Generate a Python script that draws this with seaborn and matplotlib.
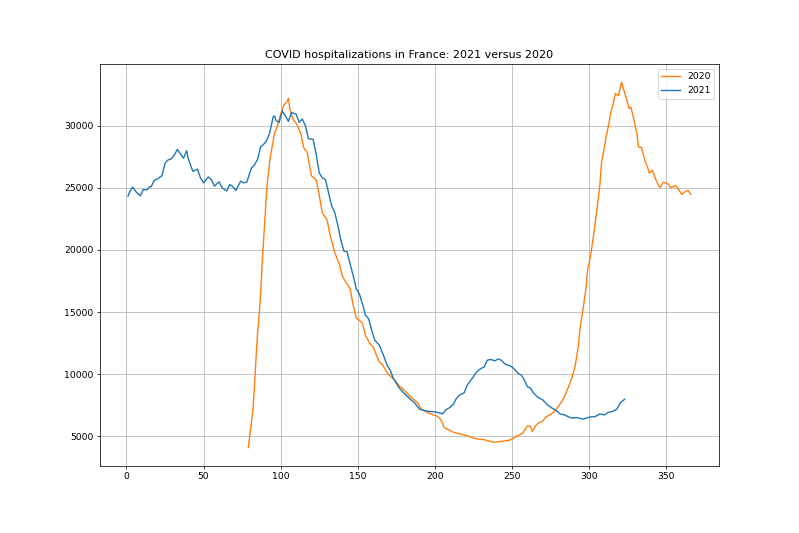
import matplotlib
matplotlib.use("Agg")
import matplotlib.pyplot as plt
import seaborn as sns
import pandas as pd

days_2020 = [79, 80, 81, 82, 83, 84, 85, 86, 87, 88, 91, 93, 96, 98, 100, 102, 104, 105,
             106, 108, 110, 113, 115, 117, 119, 120, 123, 125, 127, 130, 132, 135, 138,
             140, 142, 145, 147, 149, 151, 153, 155, 158, 160, 162, 164, 166, 168, 170,
             174, 177, 180, 183, 187, 189, 191, 194, 197, 201, 203, 205, 206, 209, 212,
             216, 219, 222, 225, 228, 232, 235, 238, 241, 245, 248, 250, 252, 255, 257,
             259, 260, 262, 263, 265, 267, 270, 272, 275, 277, 280, 283, 285, 287, 289,
             291, 293, 294, 296, 298, 299, 301, 303, 305, 307, 308, 310, 311, 313, 314,
             315, 317, 319, 321, 322, 324, 326, 327, 329, 331, 332, 334, 336, 338, 339,
             341, 343, 345, 346, 348, 351, 353, 356, 358, 360, 362, 364, 366]
hosp_2020 = [4100, 5100, 6070, 7140, 9000, 11300, 13300, 14700, 16500, 19000, 25000, 27300,
             29400, 30050, 30900, 31650, 31900, 32200, 31300, 30500, 30200, 29400, 28200,
             27900, 26600, 25950, 25650, 24400, 22950, 22450, 21200, 19800, 18850, 17900,
             17450, 16900, 15550, 14500, 14350, 14100, 13100, 12450, 12200, 11550, 11000,
             10750, 10350, 9950, 9530, 9050, 8730, 8330, 7880, 7670, 7200, 7000, 6820, 6650,
             6480, 6070, 5700, 5530, 5330, 5210, 5110, 5000, 4870, 4790, 4730, 4630, 4530,
             4570, 4630, 4680, 4790, 4950, 5130, 5270, 5670, 5850, 5800, 5400, 5800, 6070,
             6250, 6550, 6780, 6950, 7400, 7950, 8500, 9100, 9800, 10700, 12300, 13600,
             15200, 17000, 18400, 19600, 21300, 23200, 25300, 27000, 28340, 29100, 30300,
             31050, 31450, 32580, 32420, 33490, 33050, 32240, 31370, 31500, 30500, 29300,
             28290, 28240, 27240, 26600, 26180, 26400, 25710, 25200, 25000, 25450, 25320,
             25000, 25180, 24870, 24470, 24660, 24790, 24470]

days_2021 = [1, 2, 4, 6, 9, 11, 13, 15, 16, 18, 20, 23, 25, 27, 29, 31, 33, 34, 37, 39, 40,
             43, 46, 48, 50, 53, 55, 57, 60, 62, 65, 67, 69, 71, 74, 76, 78, 81, 83, 85, 87,
             89, 91, 93, 95, 96, 97, 99, 101, 103, 105, 107, 110, 112, 114, 116, 118, 121,
             123, 125, 127, 129, 131, 133, 135, 137, 139, 141, 143, 145, 147, 149, 151, 153,
             155, 157, 159, 161, 164, 167, 169, 171, 173, 175, 177, 180, 184, 187, 190, 193,
             197, 200, 202, 205, 207, 210, 212, 214, 216, 219, 221, 223, 225, 227, 230, 232,
             234, 236, 239, 241, 243, 245, 247, 249, 251, 254, 256, 258, 260, 262, 264, 267,
             270, 273, 276, 279, 281, 284, 287, 289, 292, 296, 300, 304, 307, 310, 312, 315,
             318, 320, 323]
hosp_2021 = [24345, 24650, 25055, 24700, 24345, 24870, 24820, 25080, 25080, 25600, 25710,
             25970, 26975, 27240, 27320, 27630, 28080, 27900, 27370, 27980, 27370, 26320,
             26500, 25790, 25400, 25870, 25660, 25130, 25480, 25000, 24740, 25270, 25080,
             24790, 25530, 25400, 25450, 26580, 26840, 27290, 28290, 28500, 28820, 29470,
             30660, 30790, 30400, 30260, 31180, 30790, 30340, 31050, 30920, 30260, 30530,
             30000, 28950, 28900, 27700, 26200, 25790, 25660, 24600, 23560, 23030, 22000,
             20800, 19900, 19850, 18870, 17935, 16870, 16470, 15670, 14735, 14470, 13535,
             12735, 12330, 11400, 10730, 10330, 9670, 9270, 8870, 8470, 7990, 7670, 7190,
             7080, 7000, 6970, 6920, 6810, 7130, 7350, 7590, 8070, 8330, 8520, 9130, 9480,
             9800, 10200, 10470, 10600, 11130, 11190, 11080, 11240, 11130, 10870, 10730,
             10680, 10470, 10070, 9930, 9530, 9000, 8870, 8470, 8120, 7930, 7530, 7270, 7050,
             6810, 6730, 6550, 6470, 6520, 6390, 6550, 6600, 6810, 6730, 6920, 7000, 7190,
             7670, 7990]

series_labels = ["2020", "2021"]
title_text = "COVID hospitalizations in France: 2021 versus 2020"

df = pd.concat([
    pd.DataFrame({"day": days_2020, "hosp": hosp_2020, "year": series_labels[0]}),
    pd.DataFrame({"day": days_2021, "hosp": hosp_2021, "year": series_labels[1]}),
], ignore_index=True)

DPI = 66.6
fig, ax = plt.subplots(figsize=(799 / DPI, 533 / DPI), dpi=DPI)
fig.subplots_adjust(left=0.125, right=0.9, top=0.88, bottom=0.126)

sns.lineplot(data=df, x="day", y="hosp", hue="year", hue_order=series_labels,
             palette={"2020": "#ff7f0e", "2021": "#1f77b4"}, linewidth=1.5,
             estimator=None, sort=True, ax=ax)

ax.grid(True)
ax.set_axisbelow(True)
ax.set_xlabel("")
ax.set_ylabel("")
ax.set_title(title_text)
ax.legend(loc="upper right", title=None)

fig.savefig("out.png", dpi=DPI)
